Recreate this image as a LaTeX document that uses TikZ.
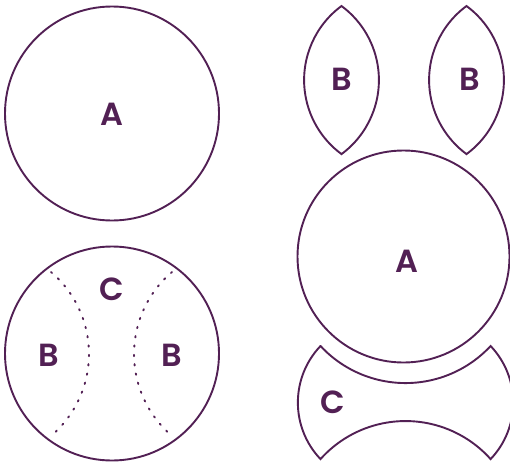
\documentclass[tikz,border=0pt]{standalone}
\usepackage{fontspec}
\setmainfont{Poppins}
\newfontfamily\labfont{Poppins SemiBold}
\usepackage{tikz}
\definecolor{plum}{RGB}{82,32,84}
\tikzset{
  px/.style={x=1pt, y=-1pt},
  p line/.style={draw=plum, line width=1.9pt, line join=miter},
  p dot/.style={draw=plum, line width=1.9pt, line cap=round, dash pattern=on 1.4pt off 8pt},
  p lab/.style={text=plum, font=\labfont\fontsize{32}{34}\selectfont, inner sep=0pt},
}

\begin{document}
\begin{tikzpicture}[px]
\useasboundingbox (0,0) rectangle (510,463);
% left: whole pie and pie with cut lines
\coordinate (c1) at (112,113.5);
\coordinate (c2) at (112,353.5);
\draw[p line] (c1) circle (107);
\draw[p line] (c2) circle (107);
\draw[p dot] (51,272) arc[start angle=-49.7, end angle=49.7, radius=107.5];
\draw[p dot] (172,272) arc[start angle=229.7, end angle=130.3, radius=107.5];
\node[p lab] (a1) at (112,114) {A};
\node[p lab] (c) at (112,289) {C};
\node[p lab] (b1) at (48.5,355) {B};
\node[p lab] (b2) at (172,355) {B};
% right: pieces taken apart
\draw[p line] (341.5,6) arc[start angle=233.6, end angle=126.4, radius=92]
  arc[start angle=53.6, end angle=-53.6, radius=92] -- cycle;
\draw[p line] (466.5,6) arc[start angle=233.6, end angle=126.4, radius=92]
  arc[start angle=53.6, end angle=-53.6, radius=92] -- cycle;
\draw[p line] (403.5,256.5) circle (106);
\draw[p line] (320.5,346) arc[start angle=137.1, end angle=42.9, radius=116.1]
  arc[start angle=-43.6, end angle=43.6, radius=82]
  arc[start angle=-41.8, end angle=-138.2, radius=114.1]
  arc[start angle=136.4, end angle=223.6, radius=82] -- cycle;
\node[p lab] (b3) at (341.5,79) {B};
\node[p lab] (b4) at (469.5,79) {B};
\node[p lab] (a2) at (407,261) {A};
\node[p lab] (c3) at (332.5,402) {C};
\end{tikzpicture}
\end{document}
